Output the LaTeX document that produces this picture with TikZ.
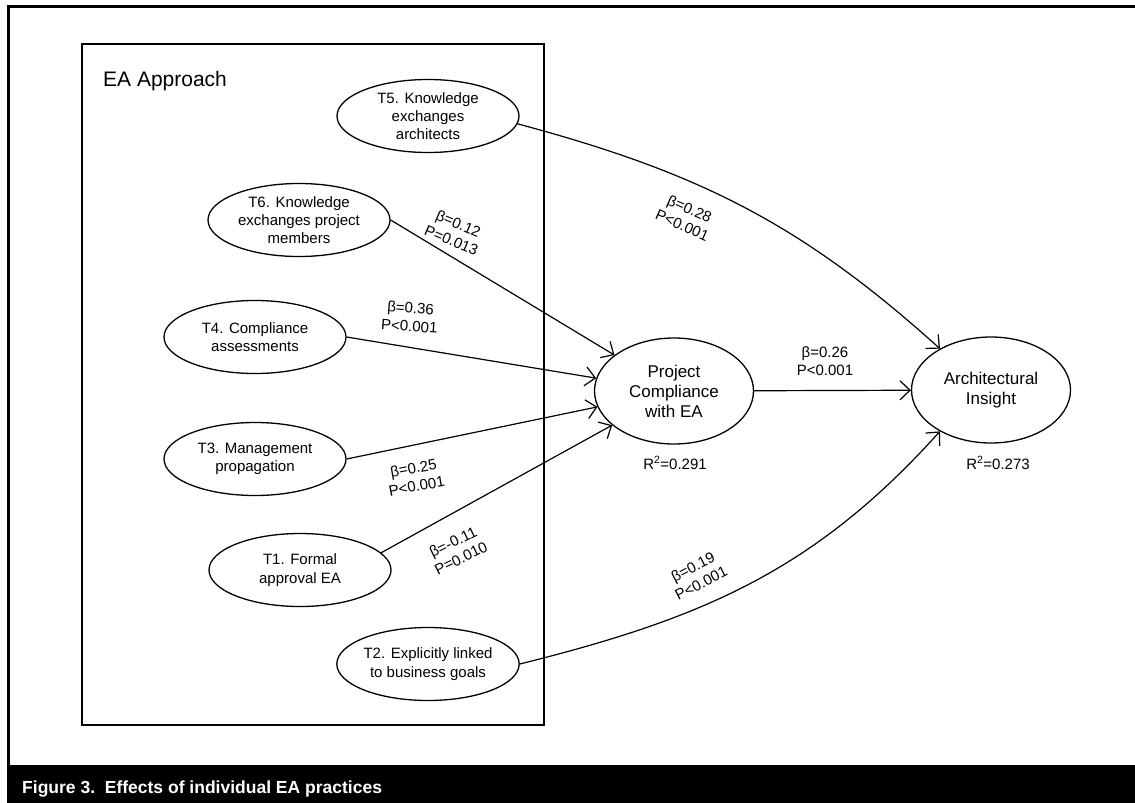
\documentclass[tikz,border=0pt]{standalone}
\usepackage{fontspec}
\setmainfont{Liberation Sans}
\usetikzlibrary{shapes.geometric,arrows.meta}
\begin{document}
\begin{tikzpicture}[x=1pt,y=-1pt,
		practice/.style={draw, ellipse, line width=1.3pt, align=center, inner sep=0pt,
			minimum width=182pt, minimum height=73pt, font=\fontsize{15}{18.3}\selectfont},
		construct/.style={draw, ellipse, line width=1.3pt, align=center, inner sep=0pt,
			minimum width=159pt, minimum height=106pt, font=\fontsize{17}{20}\selectfont},
		coef/.style={align=center, inner sep=0pt, font=\fontsize{15}{18}\selectfont},
		effect/.style={line width=1.2pt, -{Straight Barb[length=10pt,width=19pt,line width=1.2pt]}}]
			\useasboundingbox (0,0) rectangle (1135,803);

			% frame and caption bar
			\draw [line width=3pt] (8,803) -- (8,6) -- (1145,6);
			\fill (6.5,765) rectangle (1145,810);
			\node [anchor=base west, inner sep=0pt, text=white, font=\fontsize{17.5}{20}\bfseries] (caption) at (22,793) {Figure 3.~~Effects of individual EA practices};

			% EA approach box
			\draw [line width=1.4pt] (82,44) rectangle (544,725);
			\node [anchor=base west, inner sep=0pt, font=\fontsize{21}{24}\selectfont] (approach) at (103,86) {EA Approach};

			\node [practice] (tfive) at (428,116) {T5. Knowledge\\exchanges\\architects};
			\node [practice] (tsix) at (299,220) {T6. Knowledge\\exchanges project\\members};
			\node [practice] (tfour) at (255,337) {T4. Compliance\\assessments};
			\node [practice] (tthree) at (255,459) {T3. Management\\propagation};
			\node [practice] (tone) at (300,570) {T1. Formal\\approval EA};
			\node [practice] (ttwo) at (428,664) {T2. Explicitly linked\\to business goals};

			\node [construct] (pc) at (674,391) {Project\\Compliance\\with EA};
			\node [construct] (ai) at (991,390) {Architectural\\Insight};
			\node [coef] (rpc) at (675,463) {R\textsuperscript{2}=0.291};
			\node [coef] (rai) at (998,463) {R\textsuperscript{2}=0.273};

			\draw [effect] (tsix.east) -- (pc);
			\draw [effect] (tfour.east) -- (pc);
			\draw [effect] (tthree.east) -- (pc);
			\draw [effect] (tone.12) -- (pc);
			\draw [effect] (pc) -- (ai);
			\draw [effect] (tfive.-5) to [out=-15, in=138] (ai.141);
			\draw [effect] (ttwo.east) to [out=14, in=-132] (ai.-141);

			\node [coef, rotate=-23] (bsix) at (455,232) {β=0.12\\P=0.013};
			\node [coef, rotate=-4] (bfour) at (410,317) {β=0.36\\P<0.001};
			\node [coef, rotate=10] (bthree) at (415,477) {β=0.25\\P<0.001};
			\node [coef, rotate=26] (bone) at (457,550) {β=-0.11\\P=0.010};
			\node [coef, rotate=-24] (bfive) at (686,217) {β=0.28\\P<0.001};
			\node [coef, rotate=27] (btwo) at (697,575) {β=0.19\\P<0.001};
			\node [coef] (bpc) at (825,361) {β=0.26\\P<0.001};
		\end{tikzpicture}
\end{document}
